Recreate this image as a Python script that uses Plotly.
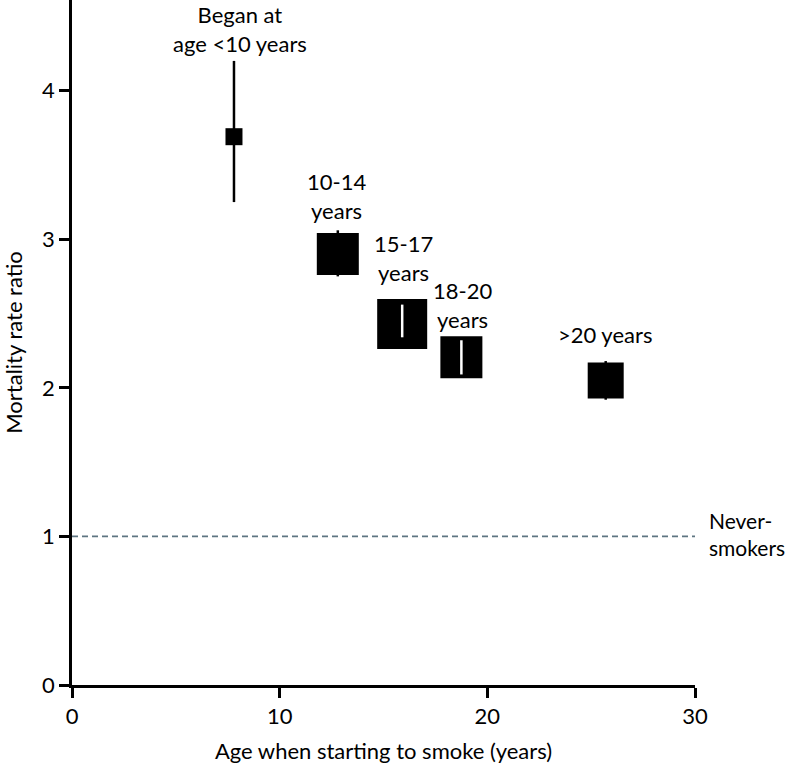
import plotly.graph_objects as go

groups = ["Began at<br>age <10 years", "10-14<br>years", "15-17<br>years", "18-20<br>years", ">20 years"]
age_start = [7.8, 12.8, 15.9, 18.75, 25.7]
rate_ratio = [3.69, 2.90, 2.43, 2.205, 2.05]
ci_low = [3.25, 2.75, 2.34, 2.09, 1.92]
ci_high = [4.20, 3.06, 2.56, 2.32, 2.18]
never_smokers_ratio = 1.0

# label anchor points (data units), one per group
label_x = [8.1, 12.76, 15.96, 18.8, 25.66]
label_y = [4.415, 3.29, 2.875, 2.56, 2.36]

marker_px = [17, 42, 50, 42, 36]
ci_colour = ["black", "black", "white", "white", "black"]

FONT = "Lato, sans-serif"
FS = 22

fig = go.Figure()

# reference line for never-smokers
fig.add_trace(go.Scatter(x=[0, 30], y=[never_smokers_ratio, never_smokers_ratio], mode="lines",
                         line=dict(color="#5e7581", width=1.8, dash="6px,4px"),
                         hoverinfo="skip", showlegend=False))

fig.add_trace(go.Scatter(x=age_start, y=rate_ratio, mode="markers",
                         marker=dict(symbol="square", size=marker_px, color="black", opacity=1,
                                     line=dict(width=0)),
                         showlegend=False))

# CI lines drawn on top of squares (white where hidden inside the square)
for i in range(len(age_start)):
    fig.add_trace(go.Scatter(x=[age_start[i], age_start[i]], y=[ci_low[i], ci_high[i]], mode="lines",
                             line=dict(color=ci_colour[i], width=2.5),
                             hoverinfo="skip", showlegend=False))

for i, g in enumerate(groups):
    fig.add_annotation(x=label_x[i], y=label_y[i], text=g, showarrow=False,
                       xanchor="center", yanchor="middle",
                       font=dict(family=FONT, size=FS, color="black"))

fig.add_annotation(x=30, y=never_smokers_ratio, xshift=12, yshift=2, text="Never-<br>smokers", showarrow=False,
                   xanchor="left", yanchor="middle", align="left",
                   font=dict(family=FONT, size=FS - 1, color="black"))

fig.update_xaxes(range=[0, 30], tickvals=[0, 10, 20, 30], showline=True, linecolor="black", linewidth=2.5,
                 ticks="outside", ticklen=10, tickwidth=2.5, tickcolor="black", showgrid=False, zeroline=False,
                 automargin=False,
                 tickfont=dict(family=FONT, size=FS, color="black"),
                 title=dict(text="Age when starting to smoke (years)", standoff=17,
                            font=dict(family=FONT, size=FS, color="black")))
fig.update_yaxes(range=[0, 4.61], tickvals=[0, 1, 2, 3, 4], showline=True, linecolor="black", linewidth=2.5,
                 ticks="outside", ticklen=10, tickwidth=2.5, tickcolor="black", showgrid=False, zeroline=False,
                 automargin=False,
                 tickfont=dict(family=FONT, size=FS, color="black"),
                 title=dict(text="Mortality rate ratio", standoff=28,
                            font=dict(family=FONT, size=FS, color="black")))

fig.update_layout(width=789, height=764, margin=dict(l=72, r=94, t=0, b=79),
                  plot_bgcolor="white", paper_bgcolor="white", showlegend=False)

# drop the browser's default body margin so the figure sits at the page corner
fig.write_html("out.html", config={"displayModeBar": False},
               post_script="document.body.style.margin='0';")
